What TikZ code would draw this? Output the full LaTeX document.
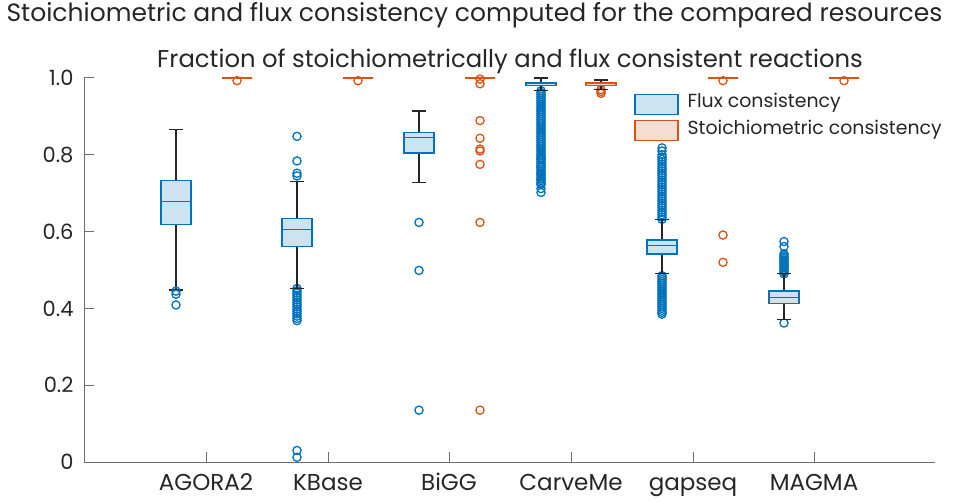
\documentclass[tikz,border=0pt]{standalone}
\usepackage{fontspec}
\setmainfont{Poppins}
\definecolor{fblue}{RGB}{0,114,189}
\definecolor{ffill}{RGB}{204,227,242}
\definecolor{sor}{RGB}{217,83,25}
\definecolor{sfill}{RGB}{247,221,209}
\definecolor{axg}{RGB}{110,110,110}
\tikzset{
 whisk/.style={draw=black!85,line width=1.3pt},
 fbx/.style={draw=fblue,fill=ffill,line width=1.3pt},
 fbxc/.style={draw=fblue,line width=1.3pt},
 sbx/.style={draw=sor,fill=sfill,line width=1.3pt},
 sbxc/.style={draw=sor,line width=1.3pt},
 fo/.style={draw=fblue,line width=1.3pt},
 so/.style={draw=sor,line width=1.3pt},
 lbl/.style={font=\fontsize{23}{26}\selectfont,text=black!85},
}
\newcommand\bxx[7]{%
 \draw[whisk] (#1,#2)--(#1,#3) (#1,#5)--(#1,#6) (#1-7,#2)--(#1+7,#2) (#1-7,#6)--(#1+7,#6);
 \draw[#7] (#1-15,#3) rectangle (#1+15,#5);
 \draw[#7c] (#1-15,#4)--(#1+15,#4);}
\newcommand\ptt[3]{\foreach \v in {#3} \draw[#2] (#1,\v) circle[radius=4.1pt];}
\newcommand\dns[5]{\foreach \v in {#3,#4,...,#5} \draw[#2] (#1,\v) circle[radius=4.1pt];}
\begin{document}
\begin{tikzpicture}[x=1pt,y=1pt]
\useasboundingbox (0,0) rectangle (976,503);
\node[anchor=base west,font=\fontsize{25}{28}\selectfont,text=black!85] (title) at (3,481) {Stoichiometric and flux consistency computed for the compared resources};
\node[anchor=base,font=\fontsize{24.3}{28}\selectfont,text=black!85] (sub) at (510,435) {Fraction of stoichiometrically and flux consistent reactions};
\begin{scope}[yshift=41pt,y=384pt]
% axes
\draw[axg,line width=1pt] (84,1)--(84,0)--(935,0);
\foreach \v/\t in {0/0,0.2/0.2,0.4/0.4,0.6/0.6,0.8/0.8,1/1.0}{
 \draw[axg,line width=1pt] (84,\v)--(94,\v);
 \node[lbl,anchor=east,font=\fontsize{21}{24}\selectfont] (y\t) at (77,\v) {\t};}
\foreach \x/\n in {206/AGORA2,328/KBase,449/BiGG,571/CarveMe,693/gapseq,814/MAGMA}{
 \draw[axg,line width=1pt] (\x,0)--(\x,0.027);
 \node[lbl,anchor=base] (c\n) at (\x,-0.075) {\n};}
% AGORA2
\bxx{176}{0.448}{0.618}{0.678}{0.733}{0.865}{fbx}
\ptt{176}{fo}{0.445,0.437,0.409}
\bxx{237}{1}{1}{1}{1}{1}{sbx}
\ptt{237}{so}{0.993}
% KBase
\dns{297}{fo}{0.452}{0.446}{0.367}
\bxx{297}{0.452}{0.561}{0.606}{0.635}{0.73}{fbx}
\ptt{297}{fo}{0.848,0.784,0.752,0.745,0.03,0.012}
\bxx{358}{1}{1}{1}{1}{1}{sbx}
\ptt{358}{so}{0.993}
% BiGG
\bxx{419}{0.728}{0.805}{0.845}{0.858}{0.914}{fbx}
\ptt{419}{fo}{0.624,0.499,0.135}
\bxx{480}{1}{1}{1}{1}{1}{sbx}
\ptt{480}{so}{0.997,0.985,0.889,0.843,0.815,0.81,0.775,0.624,0.135}
% CarveMe
\dns{541}{fo}{0.967}{0.962}{0.72}
\ptt{541}{fo}{0.702,0.712,0.724,0.737,0.75,0.77,0.79}
\bxx{541}{0.967}{0.980}{0.985}{0.989}{1.0}{fbx}
\ptt{601}{so}{0.96,0.965,0.97}
\bxx{601}{0.97}{0.980}{0.985}{0.989}{0.995}{sbx}
% gapseq
\dns{662}{fo}{0.632}{0.638}{0.80}
\ptt{662}{fo}{0.818,0.81}
\dns{662}{fo}{0.385}{0.39}{0.49}
\bxx{662}{0.49}{0.542}{0.563}{0.578}{0.632}{fbx}
\bxx{723}{1}{1}{1}{1}{1}{sbx}
\ptt{723}{so}{0.993,0.591,0.52}
% MAGMA
\ptt{784}{fo}{0.574,0.561,0.362}
\dns{784}{fo}{0.49}{0.494}{0.544}
\bxx{784}{0.371}{0.413}{0.429}{0.445}{0.49}{fbx}
\bxx{844}{1}{1}{1}{1}{1}{sbx}
\ptt{844}{so}{0.993}
\end{scope}
% legend
\draw[fbx] (635,408.7) rectangle (678,388.7);
\node[lbl,anchor=west,font=\fontsize{18.9}{22}\selectfont] (l1) at (684,400) {Flux consistency};
\draw[sbx] (635,382.3) rectangle (678,362.3);
\node[lbl,anchor=west,font=\fontsize{18.9}{22}\selectfont] (l2) at (684,373) {Stoichiometric consistency};
\end{tikzpicture}
\end{document}
